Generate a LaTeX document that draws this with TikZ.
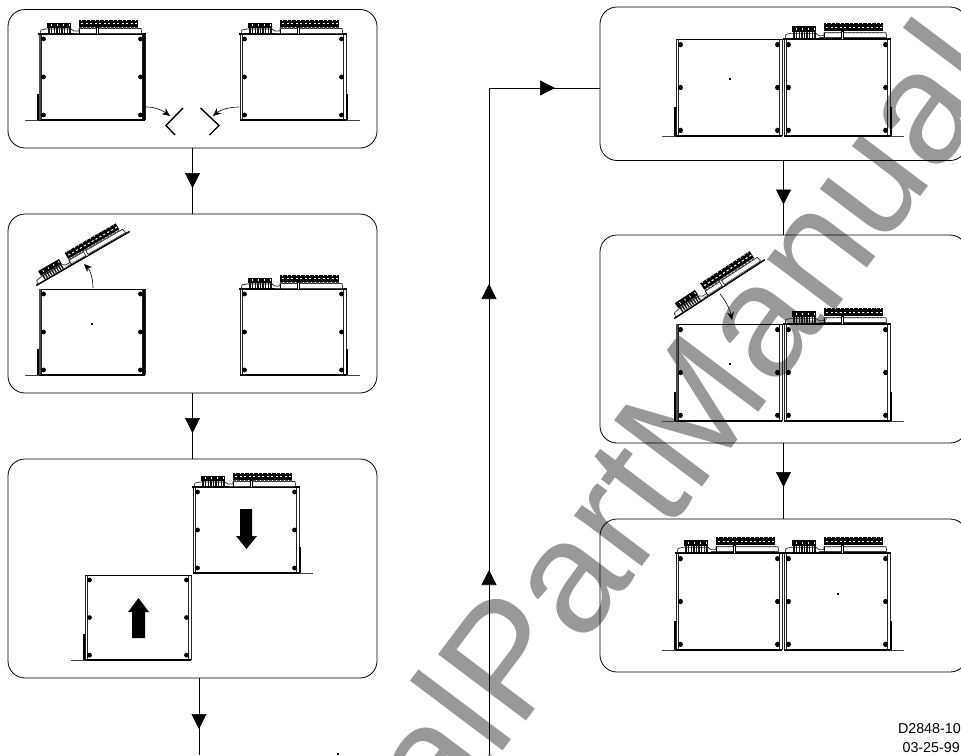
\documentclass[tikz,border=0pt]{standalone}
\usepackage{fontspec}
\setmainfont{Liberation Sans}
\usetikzlibrary{arrows.meta,decorations.markings}
\definecolor{wm}{HTML}{999999}
\tikzset{
  panel/.style={draw=black,line width=.8pt,rounded corners=17pt,inner sep=0pt,outer sep=0pt},
  flowline/.style={line width=.7pt},
  midtip/.style={postaction={decorate,decoration={markings,mark=at position #1 with {\arrow{Triangle[length=15pt,width=15pt]}}}}},
  curvearrow/.style={line width=.6pt,-{Stealth[length=8pt,width=7pt]}},
  bigarrow/.style={fill=black,draw=none},
  chevron/.style={line width=1.4pt},
  smalldot/.style={fill=black,inner sep=0pt,minimum size=1.6pt,shape=rectangle},
}
% one enclosure, local x 0..106, y 0..86
\newcommand\casebox[4]{%
  \begin{scope}[shift={(#1,#2)},yscale=#3]
    \draw[line width=.8pt] (0,0) -- (106,0);
    \draw[line width=.9pt,draw=black!85] (0,0) -- (0,86) (2.2,0) -- (2.2,86) (103.8,0) -- (103.8,86) (106,0) -- (106,86);
    \draw[line width=1.6pt] (0,86) -- (106,86);
    \foreach \dx in {4.5,101.5} \foreach \dy in {5,43,81} \fill (\dx,\dy) circle[radius=2.4];
    #4
  \end{scope}}
\newcommand\wallL{\draw[line width=2.4pt,draw=black!70] (1,0) -- (1,86);}
\newcommand\wallR{\draw[line width=2.6pt] (105,0) -- (105,86);}
\newcommand\footL{\draw[line width=1.8pt] (-1,60) -- (-1,86);\draw[line width=1.3pt,draw=black!75] (-14,86.3) -- (0,86.3);}
\newcommand\footR{\draw[line width=1.8pt] (107,60) -- (107,86);\draw[line width=1.3pt,draw=black!75] (106,86.3) -- (120,86.3);}
% connector board above the top edge
\newcommand\boardtop{%
  \draw[line width=1.5pt] (-1,0) -- (107,0);
  \draw[line width=.7pt,draw=black!85] (1,0) -- (2,-4) -- (7,-5) -- (32,-5) -- (35,-3) -- (40,-3) -- (40,-5.5) -- (102,-5.5) -- (103,0);
  \draw[line width=.6pt,draw=black!75] (35,-1.2) -- (102,-1.2);
  \draw[line width=.6pt] (40,-5) -- (40,0);
  \fill (8,-11.5) rectangle (32,-6);
  \foreach \k in {10,12.6,...,31} \draw[line width=1.4pt,draw=black!90] (\k,-6) -- (\k,-1);
  \foreach \k in {12,18,24,30} \fill[white] (\k,-10) rectangle ++(.8,2);
  \fill (40,-14) rectangle (99,-7);
  \foreach \k in {42,46.5,...,98} {\fill[white] (\k,-10.7) rectangle ++(2.2,1);\fill[white] (\k,-14) rectangle ++(.7,1);}
  \draw[line width=1.4pt,draw=black!70,dash pattern=on 2.5pt off 1.5pt] (40,-6) -- (99,-6);
  \draw[fill=white,line width=.5pt] (57,-6.5) rectangle (59.5,0);
}
\begin{document}
\begin{tikzpicture}[x=1pt,y=-1pt]
\useasboundingbox (0,0) rectangle (961,755);
\clip (0,0) rectangle (961,755);
\fill[white] (0,0) rectangle (961,755);
% watermark
\node[anchor=base west,rotate=53,inner sep=0pt,text=wm,font=\fontsize{160}{160}\selectfont] (wmark) at (443,831) {alPartManual};
% panels
\node[panel,minimum width=369pt,minimum height=138.5pt] (p1) at (192.5,78.75) {};
\node[panel,minimum width=369pt,minimum height=179pt] (p2) at (192.5,303.5) {};
\node[panel,minimum width=369pt,minimum height=219pt] (p3) at (192.5,568.5) {};
\node[panel,minimum width=367pt,minimum height=153.5pt] (r1) at (783.5,83.75) {};
\node[panel,minimum width=367pt,minimum height=208pt] (r2) at (783.5,339) {};
\node[panel,minimum width=367pt,minimum height=153pt] (r3) at (783.5,595.5) {};
% flow
\coordinate (e3) at (199,755);
\coordinate (e4) at (489,755);
\coordinate (c4) at (489,88);
\draw[flowline,midtip=40pt] (p1.south) -- (p2.north);
\draw[flowline,midtip=40pt] (p2.south) -- (p3.north);
\draw[flowline,midtip=51pt] (p3.south -| e3) -- (e3);
\draw[flowline,postaction={decorate,decoration={markings,
   mark=at position 185pt with {\arrow{Triangle[length=15pt,width=15pt]}},
   mark=at position 471pt with {\arrow{Triangle[length=15pt,width=15pt]}},
   mark=at position 733pt with {\arrow{Triangle[length=15pt,width=15pt]}}}}]
   (e4) -- (c4) -- (c4 -| r1.west);
\draw[flowline,midtip=44pt] (r1.south) -- (r2.north);
\draw[flowline,midtip=44pt] (r2.south) -- (r3.north);
% panel 1
\casebox{39}{34}{1}{\wallL\wallR\boardtop\footL}
\casebox{240}{34}{1}{\boardtop\footR}
\coordinate (a1s) at (146,107); \coordinate (a1e) at (170,116);
\coordinate (a2s) at (239,107); \coordinate (a2e) at (213,116);
\draw[curvearrow] (a1s) .. controls (155,107) and (162,110) .. (a1e);
\draw[curvearrow] (a2s) .. controls (229,107) and (220,110) .. (a2e);
\draw[chevron] (183,108) -- (166,125.5) -- (175,135);
\draw[chevron] (200.5,108) -- (219,125.5) -- (209.5,135);
% panel 2
\casebox{39}{289}{1}{\wallL\wallR\footL}
\begin{scope}[shift={(37,285)},rotate=30]\boardtop\end{scope}
\casebox{240}{289}{1}{\boardtop\footR}
\coordinate (b1s) at (93,288); \coordinate (b1e) at (84,264);
\draw[curvearrow] (b1s) .. controls (93,278) and (90,270) .. (b1e);
\node[smalldot] (d1) at (92,324) {};
% panel 3
\casebox{193}{487}{1}{\boardtop\footR}
\casebox{85}{575}{.99}{\footL}
\fill[bigarrow] (240,509) -- (252,509) -- (252,536) -- (257,536) -- (246.5,549) -- (236,536) -- (240,536) -- cycle;
\fill[bigarrow] (132,638) -- (145,638) -- (145,612) -- (149,612) -- (138.5,598) -- (128,612) -- (132,612) -- cycle;
% right panel 1
\casebox{676}{39}{1.128}{\footL}
\casebox{784}{39}{1.128}{\boardtop\footR}
\node[smalldot] (d2) at (730,79) {};
% right panel 2
\casebox{676}{324}{1.128}{\wallL\footL}
\casebox{784}{324}{1.128}{\boardtop\footR}
\begin{scope}[shift={(675,318)},rotate=33,yscale=1.1]\boardtop\end{scope}
\coordinate (c1s) at (720,294); \coordinate (c1e) at (732,320);
\draw[curvearrow] (c1s) .. controls (726,301) and (730,310) .. (c1e);
\node[smalldot] (d3) at (730,364) {};
% right panel 3
\casebox{676}{553}{1.128}{\boardtop\footL}
\casebox{784}{553}{1.128}{\boardtop\footR}
\node[smalldot] (d4) at (838,594) {};
\node[smalldot] (d5) at (338,754) {};
% label
\node[anchor=base east,inner sep=0pt,font=\fontsize{14.3}{14.3}\selectfont] (l1) at (961,733) {D2848-10};
\node[anchor=base east,inner sep=0pt,font=\fontsize{14.3}{14.3}\selectfont] (l2) at (960,752) {03-25-99};
\end{tikzpicture}
\end{document}
